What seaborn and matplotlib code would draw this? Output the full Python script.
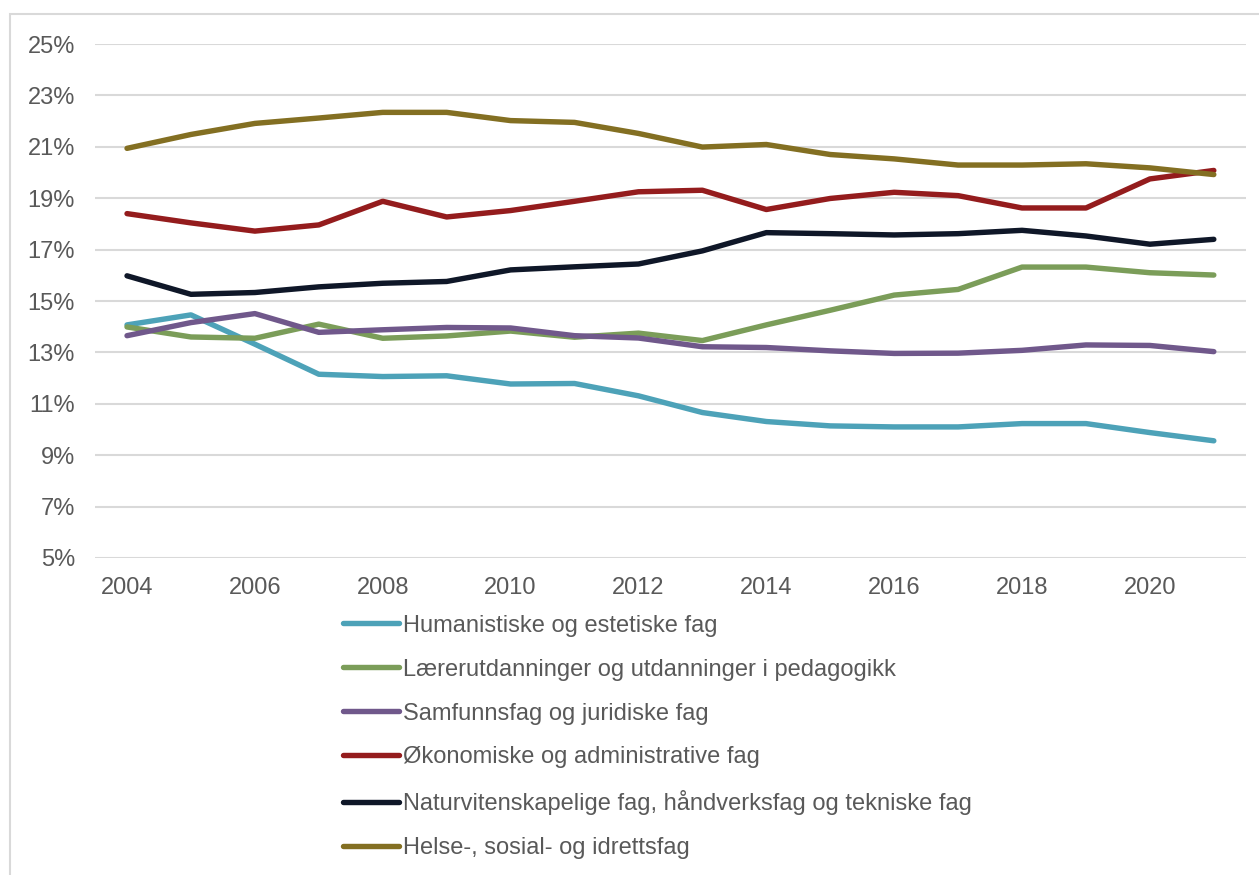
import pandas as pd
import matplotlib.pyplot as plt
import seaborn as sns
from matplotlib.patches import Rectangle
from matplotlib.ticker import FuncFormatter

years = list(range(2004, 2022))

humanistiske = [14.07, 14.46, 13.32, 12.15, 12.06, 12.09, 11.77, 11.79, 11.31,
                10.66, 10.31, 10.14, 10.10, 10.10, 10.23, 10.23, 9.88, 9.56]
laerer = [13.99, 13.60, 13.55, 14.10, 13.55, 13.64, 13.83, 13.59, 13.75,
          13.46, 14.07, 14.64, 15.23, 15.45, 16.32, 16.32, 16.10, 16.01]
samfunn = [13.65, 14.16, 14.51, 13.78, 13.88, 13.97, 13.95, 13.65, 13.56,
           13.22, 13.19, 13.06, 12.96, 12.97, 13.08, 13.29, 13.27, 13.03]
okonomi = [18.40, 18.04, 17.72, 17.96, 18.88, 18.27, 18.52, 18.88, 19.25,
           19.31, 18.56, 18.99, 19.23, 19.10, 18.62, 18.62, 19.75, 20.08]
natur = [15.98, 15.26, 15.33, 15.55, 15.69, 15.76, 16.21, 16.33, 16.44,
         16.95, 17.66, 17.62, 17.57, 17.62, 17.75, 17.53, 17.21, 17.40]
helse = [20.94, 21.48, 21.91, 22.12, 22.34, 22.34, 22.02, 21.95, 21.52,
         20.99, 21.09, 20.70, 20.53, 20.29, 20.29, 20.34, 20.18, 19.92]

series_names = [
    "Humanistiske og estetiske fag",
    "Lærerutdanninger og utdanninger i pedagogikk",
    "Samfunnsfag og juridiske fag",
    "Økonomiske og administrative fag",
    "Naturvitenskapelige fag, håndverksfag og tekniske fag",
    "Helse-, sosial- og idrettsfag",
]
series_values = [humanistiske, laerer, samfunn, okonomi, natur, helse]
colors = ["#4da2b8", "#7b9d59", "#70588b", "#941c1d", "#0f1728", "#836f22"]

frames = []
for name, vals in zip(series_names, series_values):
    frames.append(pd.DataFrame({"År": years, "Andel": vals, "Fag": name}))
df = pd.concat(frames, ignore_index=True)

sns.set_style("white")
plt.rcParams['font.family'] = ['Liberation Sans', 'DejaVu Sans']

fig = plt.figure(figsize=(12.59, 8.75), dpi=100)
ax = fig.add_axes([0.0755, 0.3623, 0.914, 0.5874])

sns.lineplot(data=df, x="År", y="Andel", hue="Fag", hue_order=series_names,
             palette=colors, linewidth=3.9, ax=ax, legend=True)

ax.set_xlim(2003.5, 2021.5)
ax.set_ylim(5, 25)
ax.set_yticks(range(5, 26, 2))
ax.set_xticks(range(2004, 2021, 2))
ax.yaxis.set_major_formatter(FuncFormatter(lambda v, p: f"{v:.0f}%"))
ax.grid(axis="y", color="#d9d9d9", linewidth=1.5)
ax.grid(axis="x", visible=False)
ax.set_axisbelow(True)
for s in ax.spines.values():
    s.set_visible(False)
ax.tick_params(axis="both", length=0, labelsize=17, colors="#595959")
ax.tick_params(axis="y", pad=14.5)
ax.tick_params(axis="x", pad=14)
ax.set_xlabel("")
ax.set_ylabel("")

handles, labels = ax.get_legend_handles_labels()
ax.legend(handles, labels, loc="upper left", bbox_to_anchor=(0.2724, 0.2976),
          bbox_transform=fig.transFigure, frameon=False, fontsize=17,
          labelcolor="#595959", handlelength=2.37, handletextpad=0.17,
          labelspacing=0.93, borderaxespad=0, borderpad=0)
for line in ax.get_legend().get_lines():
    line.set_linewidth(3.9)
    line.set_solid_capstyle("round")

# kantlinje (bare venstre og øvre kant er synlig)
fig.patches.append(Rectangle((10 / 1259, -0.05), 1.1, 0.05 + 861 / 875,
                             transform=fig.transFigure, fill=False,
                             edgecolor="#d9d9d9", linewidth=1.5))

fig.savefig("out.png", dpi=100)
